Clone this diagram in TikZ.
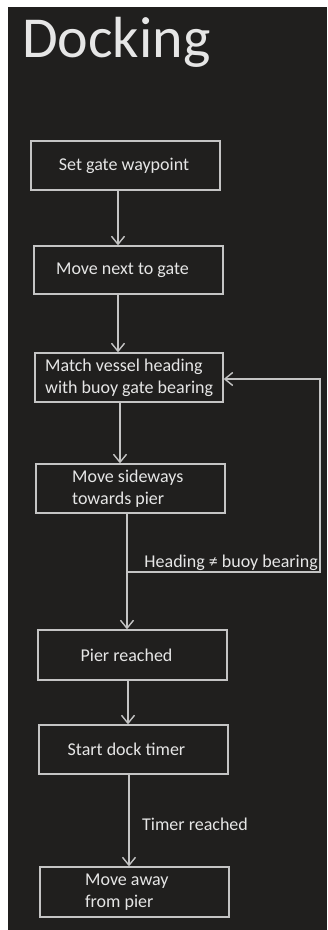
\documentclass[tikz,border=0pt]{standalone}
\usepackage{fontspec}
\setmainfont{Carlito}
\usetikzlibrary{arrows.meta}
\definecolor{bgdark}{HTML}{201F1E}
\definecolor{linegray}{HTML}{C4C4C4}
\definecolor{txtgray}{HTML}{E6E6E6}
\begin{document}
\begin{tikzpicture}[x=1pt,y=-1pt,
  stepbox/.style={draw=linegray,line width=1.3pt,fill=bgdark,minimum width=189pt,minimum height=49pt,inner sep=0pt},
  boxtxt/.style={text=txtgray,font=\fontsize{18}{22}\selectfont,inner sep=0pt,align=left},
  flow/.style={draw=linegray,line width=1.4pt,-{Straight Barb[length=8pt,width=13pt,line width=1.4pt]}},
  lbl/.style={text=txtgray,font=\fontsize{18}{21}\selectfont,inner sep=0pt}]
\useasboundingbox (0,0) rectangle (327,930);
\fill[white] (0,0) rectangle (327,930);
\fill[bgdark] (8,7) rectangle (327,930);
\node[anchor=base west,text=txtgray,font=\fontsize{58}{60}\selectfont,inner sep=0pt] (title) at (22,57) {Docking};
% boxes
\node[stepbox] (b1) at (125.5,165.5) {};
\node[boxtxt] (t1) at (124,165.5) {Set gate waypoint};
\node[stepbox,minimum height=48pt] (b2) at (128.5,270) {};
\node[boxtxt] (t2) at (122.5,270) {Move next to gate};
\node[stepbox,minimum width=188pt] (b3) at (129,377.5) {};
\node[boxtxt,anchor=west] (t3) at (45,378) {Match vessel heading\\with buoy gate bearing};
\node[stepbox] (b4) at (130.5,488.5) {};
\node[boxtxt,anchor=west] (t4) at (72,489) {Move sideways\\towards pier};
\node[stepbox,minimum height=50pt] (b5) at (132.5,655) {};
\node[boxtxt] (t5) at (126.5,655) {Pier reached};
\node[stepbox] (b6) at (133.5,749.5) {};
\node[boxtxt] (t6) at (126.5,749.5) {Start dock timer};
\node[stepbox,minimum height=50pt] (b7) at (134.5,892) {};
\node[boxtxt,anchor=west] (t7) at (85,892) {Move away\\from pier};
% connector end points on the boxes
\coordinate (b1s) at ([xshift=-7.5pt]b1.south);
\coordinate (b2n) at ([xshift=-10.5pt]b2.north);
\coordinate (b2s) at ([xshift=-10.5pt]b2.south);
\coordinate (b3n) at ([xshift=-11pt]b3.north);
\coordinate (b3s) at ([xshift=-9pt]b3.south);
\coordinate (b3e) at ([yshift=-1.5pt]b3.east);
\coordinate (b4n) at ([xshift=-10.5pt]b4.north);
\coordinate (b4s) at ([xshift=-3.5pt]b4.south);
\coordinate (b5n) at ([xshift=-5.5pt]b5.north);
\coordinate (b5s) at ([xshift=-4.5pt]b5.south);
\coordinate (b6n) at ([xshift=-5.5pt]b6.north);
\coordinate (b6s) at ([xshift=-4.5pt]b6.south);
\coordinate (b7n) at ([xshift=-5.5pt]b7.north);
% connectors
\draw[flow] (b1s) -- (b2n);
\draw[flow] (b2s) -- (b3n);
\draw[flow] (b3s) -- (b4n);
\draw[flow] (b4s) -- (b5n);
\draw[flow] (b5s) -- (b6n);
\draw[flow] (b6s) -- (b7n);
\coordinate (lj) at (127,572);
\coordinate (lr) at (320,572);
\coordinate (lt) at (320,379);
\draw[flow] (lj) -- (lr) -- (lt) -- (b3e);
\node[lbl,anchor=base east] (l1) at (318,567) {Heading ≠ buoy bearing};
\node[lbl,anchor=west] (l2) at (142,824) {Timer reached};
\end{tikzpicture}
\end{document}
